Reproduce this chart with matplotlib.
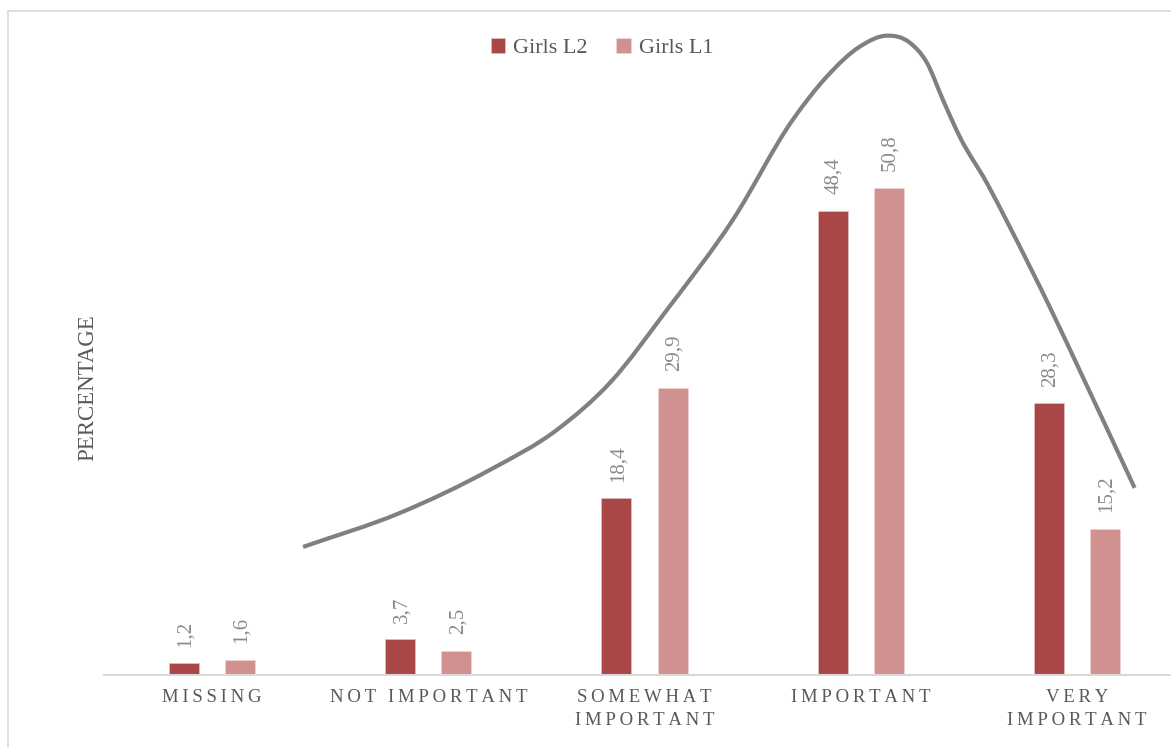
import numpy as np
import matplotlib.pyplot as plt
from matplotlib.patches import Rectangle, PathPatch
from matplotlib.path import Path

plt.rcParams['font.family'] = ['Liberation Serif', 'DejaVu Serif']

categories = ['MISSING', 'NOT IMPORTANT', 'SOMEWHAT\nIMPORTANT', 'IMPORTANT', 'VERY\nIMPORTANT']
girls_l2 = [1.2, 3.7, 18.4, 48.4, 28.3]
girls_l1 = [1.6, 2.5, 29.9, 50.8, 15.2]
series_names = ['Girls L2', 'Girls L1']
colors = ['#A94646', '#D29191']

# hand-drawn trend curve (category units, percent)
curve_x = [0.421, 0.869, 1.285, 1.595, 1.840, 2.104, 2.409, 2.686,
           2.843, 2.996, 3.121, 3.227, 3.306, 3.380, 3.458, 3.583, 3.689, 3.874,
           4.027, 4.267]
curve_y = [13.35, 16.89, 21.38, 25.55, 30.45, 38.06, 47.45, 57.87,
           62.36, 65.49, 66.63, 65.90, 63.82, 59.96, 56.10, 51.30, 46.72, 38.37,
           31.07, 19.50]


def spaced(label):
    # letter spacing like the original axis labels
    return '\n'.join(' \u2009\u2009'.join('\u2009'.join(w) for w in line.split(' '))
                     for line in label.split('\n'))


def smooth_path(xs, ys):
    # cubic Hermite in x, written as Bezier segments
    xs = np.asarray(xs)
    ys = np.asarray(ys)
    m = np.gradient(ys, xs)
    verts = [(xs[0], ys[0])]
    codes = [Path.MOVETO]
    for i in range(len(xs) - 1):
        dx = (xs[i + 1] - xs[i]) / 3
        verts += [(xs[i] + dx, ys[i] + m[i] * dx),
                  (xs[i + 1] - dx, ys[i + 1] - m[i + 1] * dx),
                  (xs[i + 1], ys[i + 1])]
        codes += [Path.CURVE4] * 3
    return Path(verts, codes)


fig = plt.figure(figsize=(11.71, 7.47), dpi=100)
fig.patches.append(Rectangle((8 / 1171, -0.05), 1.1, 1.05 - 11 / 747,
                             transform=fig.transFigure, fill=False,
                             edgecolor='#d9d9d9', linewidth=1.2, zorder=0))

ax = fig.add_axes([104 / 1171, 72 / 747, 1081 / 1171, 664 / 747])
x = np.arange(len(categories))
w = 0.139
off = 0.13
b1 = ax.bar(x - off, girls_l2, w, color=colors[0], label=series_names[0],
            edgecolor='#e8c8c8', linewidth=0.4)
b2 = ax.bar(x + off, girls_l1, w, color=colors[1], label=series_names[1],
            edgecolor='#f0dada', linewidth=0.4)

for bars, vals in [(b1, girls_l2), (b2, girls_l1)]:
    for rect, v in zip(bars, vals):
        ax.annotate(f'{v:.1f}'.replace('.', ','),
                    (rect.get_x() + rect.get_width() / 2, v),
                    xytext=(1, 12), textcoords='offset points',
                    rotation=90, ha='center', va='bottom',
                    fontsize=15, color='#8a8a8a')

ax.add_patch(PathPatch(smooth_path(curve_x, curve_y), fill=False,
                       edgecolor='#808080', linewidth=3, capstyle='butt',
                       clip_on=False))

ax.set_xlim(-0.5, 4.5)
ax.set_ylim(0, 69.2)
ax.set_xticks(x)
ax.set_xticklabels([spaced(c) for c in categories], fontsize=13.5,
                   color='#595959', linespacing=1.45)
ax.tick_params(axis='x', length=0, pad=10)
ax.set_yticks([])
for s in ['top', 'right', 'left']:
    ax.spines[s].set_visible(False)
ax.spines['bottom'].set_color('#d9d9d9')
ax.spines['bottom'].set_linewidth(1.5)

fig.text(88 / 1171, 1 - 388 / 747, 'PERCENTAGE', rotation=90, ha='center',
         va='center', fontsize=16.5, color='#595959')

ax.legend(loc='center', bbox_to_anchor=(602 / 1171, 1 - 48 / 747),
          bbox_transform=fig.transFigure, ncol=2, frameon=False,
          fontsize=16, labelcolor='#595959', handlelength=0.65,
          handleheight=0.65, handletextpad=0.35, columnspacing=1.3)

fig.savefig('out.png', dpi=100)
